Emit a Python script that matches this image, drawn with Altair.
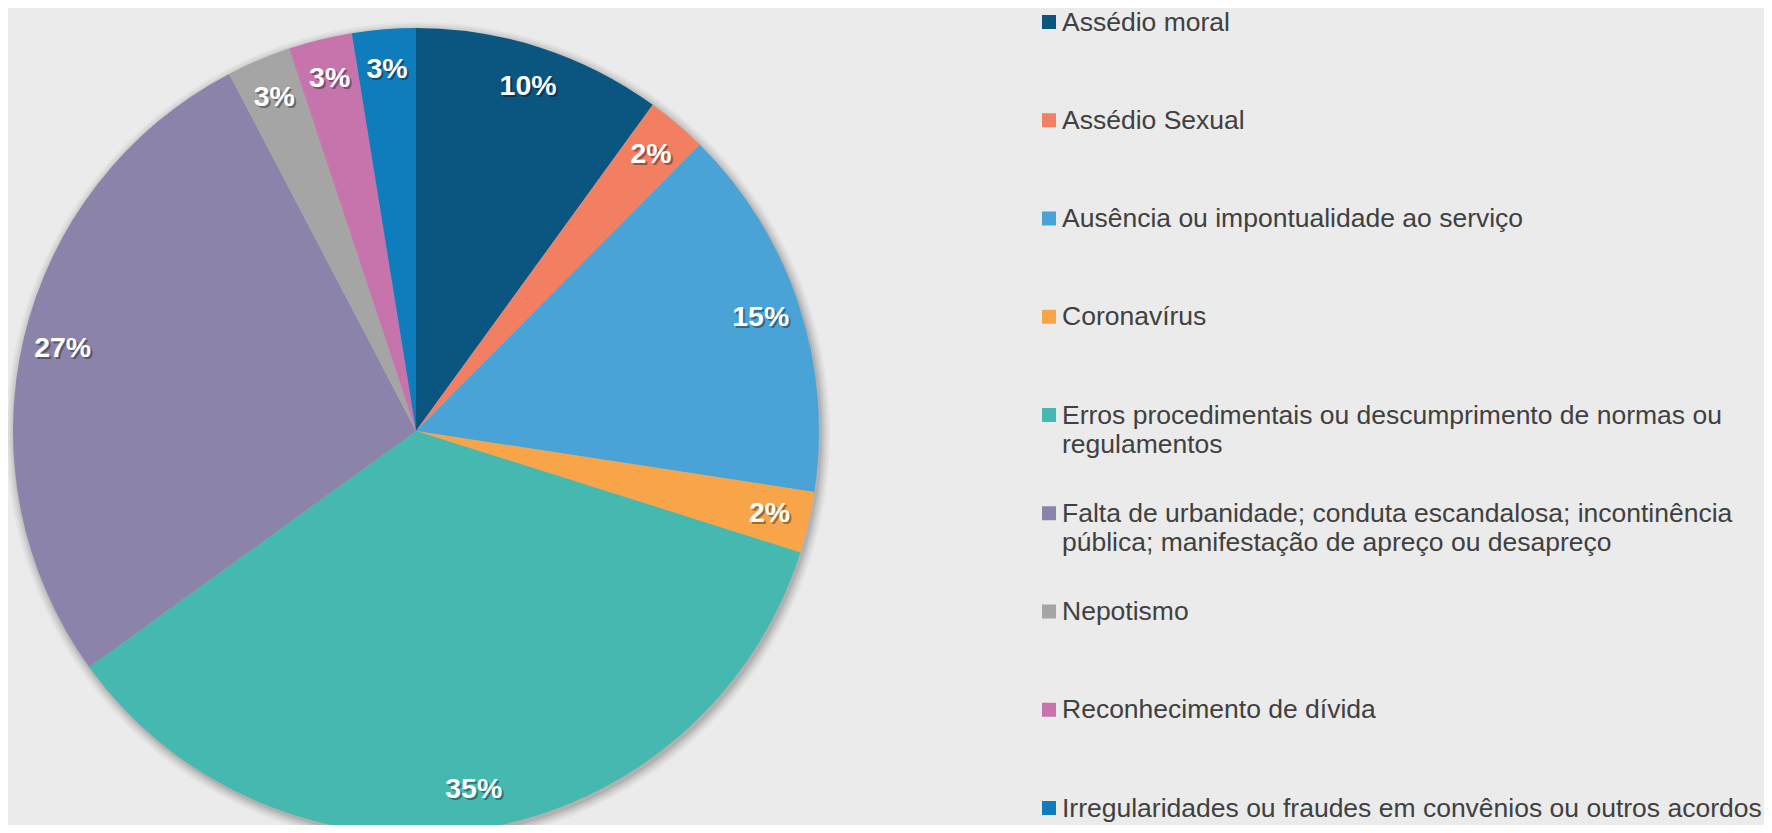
import altair as alt
import pandas as pd

categories = [
    "Assédio moral",
    "Assédio Sexual",
    "Ausência ou impontualidade ao serviço",
    "Coronavírus",
    "Erros procedimentais ou descumprimento de normas ou regulamentos",
    "Falta de urbanidade; conduta escandalosa; incontinência pública; manifestação de apreço ou desapreço",
    "Nepotismo",
    "Reconhecimento de dívida",
    "Irregularidades ou fraudes em convênios ou outros acordos",
]
values = [10.0, 2.44, 15.0, 2.45, 35.2, 27.3, 2.58, 2.55, 2.55]
colors = ["#0B5680", "#F37F63", "#4AA3D7", "#F8A54A", "#45B8B0",
          "#8B83A9", "#A5A5A5", "#C774AD", "#0F7DBC"]
legend_labels = [
    "Assédio moral",
    "Assédio Sexual",
    "Ausência ou impontualidade ao serviço",
    "Coronavírus",
    "Erros procedimentais ou descumprimento de normas ou\nregulamentos",
    "Falta de urbanidade; conduta escandalosa; incontinência\npública; manifestação de apreço ou desapreço",
    "Nepotismo",
    "Reconhecimento de dívida",
    "Irregularidades ou fraudes em convênios ou outros acordos",
]

df = pd.DataFrame({"cat": categories, "value": values, "idx": list(range(len(categories)))})
leg = pd.DataFrame({"cat": categories, "label": legend_labels, "idx": list(range(len(categories)))})

CX, CY, R = 408, 423, 403
color_scale = alt.Scale(domain=categories, range=colors)

base = alt.Chart(df).transform_joinaggregate(total="sum(value)").transform_calculate(
    pct="datum.value / datum.total"
)

shadow_layers = []
for k, op in [(9, 0.03), (7, 0.04), (5, 0.05), (3, 0.06), (1, 0.08)]:
    shadow_layers.append(
        alt.Chart(pd.DataFrame({"a": [1]}))
        .mark_arc(theta=0, theta2=6.2832, color="black", opacity=op)
        .encode(x=alt.value(CX + 2), y=alt.value(CY + 3), radius=alt.value(R + k))
    )

pie = base.mark_arc(stroke=None).encode(
    theta=alt.Theta("value:Q", stack=True),
    order=alt.Order("idx:Q"),
    color=alt.Color("cat:N", scale=color_scale, legend=None),
    x=alt.value(CX), y=alt.value(CY), radius=alt.value(R),
)

lab_kw = dict(font="Liberation Sans", fontWeight="bold", fontSize=28.5, baseline="middle", align="center")
label_shadow = base.mark_text(color="black", opacity=0.35, dx=2, dy=2, **lab_kw).encode(
    theta=alt.Theta("value:Q", stack=True),
    order=alt.Order("idx:Q"),
    radius=alt.value(363),
    x=alt.value(CX), y=alt.value(CY),
    text=alt.Text("pct:Q", format=".0%"),
)
labels = base.mark_text(color="white", **lab_kw).encode(
    theta=alt.Theta("value:Q", stack=True),
    order=alt.Order("idx:Q"),
    radius=alt.value(363),
    x=alt.value(CX), y=alt.value(CY),
    text=alt.Text("pct:Q", format=".0%"),
)

yscale = alt.Scale(domain=[0, 8], range=[14, 800])
leg_sq = alt.Chart(leg).mark_square(size=196, opacity=1, filled=True).encode(
    x=alt.value(1041),
    y=alt.Y("idx:Q", scale=yscale, axis=None),
    color=alt.Color("cat:N", scale=color_scale, legend=None),
)
leg_txt = alt.Chart(leg).mark_text(
    align="left", baseline="alphabetic", lineBreak="\n", lineHeight=29.5,
    font="Liberation Sans", fontSize=26.5,
    color="#404040", dy=8.7,
).encode(
    x=alt.value(1054),
    y=alt.Y("idx:Q", scale=yscale, axis=None),
    text="label:N",
)

chart = alt.layer(*shadow_layers, pie, label_shadow, labels, leg_sq, leg_txt).properties(
    width=1756, height=817, background="#EBEBEB", padding=0,
    autosize=alt.AutoSizeParams(type="none"),
).configure_view(stroke=None)

chart.save("out.html", embed_options={"renderer": "svg", "actions": False})
